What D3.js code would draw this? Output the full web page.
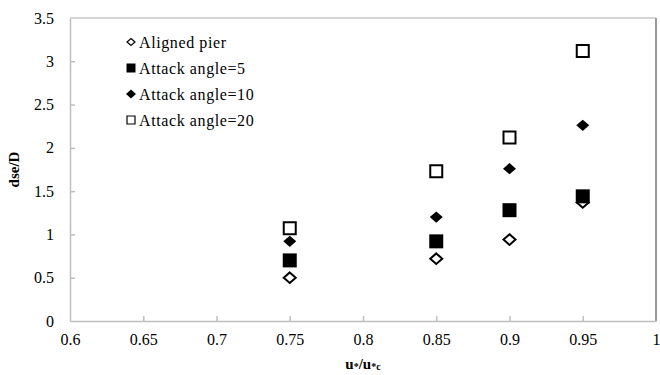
<!DOCTYPE html>
<html>
<head>
    <meta charset="UTF-8">
    <title>dse/D vs u*/u*c</title>
    <style>
        body {
            margin: 0;
            padding: 0;
            background-color: #fff;
        }
        svg text {
            font-family: "Liberation Serif", "Times New Roman", serif;
            fill: #000;
        }
        .axis path, .axis line {
            stroke: #bfbfbf;
            stroke-width: 1.5px;
        }
        .axis text {
            font-size: 16px;
        }
    </style>
    <script src="https://cdn.jsdelivr.net/npm/d3@7"></script>
</head>
<body>
    <div id="chart"></div>

    <script>
        // data
        var ratios = [0.75, 0.85, 0.9, 0.95];
        var alignedPier = [0.50, 0.72, 0.94, 1.37];
        var attack5 = [0.70, 0.92, 1.28, 1.44];
        var attack10 = [0.92, 1.20, 1.76, 2.26];
        var attack20 = [1.07, 1.73, 2.12, 3.12];

        var xTicks = [0.6, 0.65, 0.7, 0.75, 0.8, 0.85, 0.9, 0.95, 1];
        var yTicks = [0, 0.5, 1, 1.5, 2, 2.5, 3, 3.5];

        var series = [
            {name: "Aligned pier", values: alignedPier, shape: "diamond", filled: false},
            {name: "Attack angle=5", values: attack5, shape: "square", filled: true},
            {name: "Attack angle=10", values: attack10, shape: "diamond", filled: true},
            {name: "Attack angle=20", values: attack20, shape: "square", filled: false}
        ];

        var W = 660, H = 375;
        var margin = {top: 18, right: 4, bottom: 54, left: 70};

        var x = d3.scaleLinear().domain([0.6, 1]).range([margin.left, W - margin.right]);
        var y = d3.scaleLinear().domain([0, 3.5]).range([H - margin.bottom, margin.top]);

        var svg = d3.select("#chart").append("svg")
            .attr("width", W)
            .attr("height", H);

        // plot area frame (top light, right darker)
        svg.append("line")
            .attr("x1", x(0.6)).attr("x2", x(1))
            .attr("y1", y(3.5)).attr("y2", y(3.5))
            .attr("stroke", "#c8c8c8").attr("stroke-width", 1.5);
        svg.append("line")
            .attr("x1", x(1)).attr("x2", x(1))
            .attr("y1", y(3.5)).attr("y2", y(0))
            .attr("stroke", "#9a9a9a").attr("stroke-width", 2);

        var fmt = function(d) { return String(+d.toFixed(2)); };

        var xAxis = svg.append("g")
            .attr("class", "axis")
            .attr("transform", "translate(0," + y(0) + ")")
            .call(d3.axisBottom(x).tickValues(xTicks).tickFormat(fmt)
                .tickSizeInner(-5).tickSizeOuter(0).tickPadding(13));

        var yAxis = svg.append("g")
            .attr("class", "axis")
            .attr("transform", "translate(" + x(0.6) + ",0)")
            .call(d3.axisLeft(y).tickValues(yTicks).tickFormat(fmt)
                .tickSizeInner(-5).tickSizeOuter(0).tickPadding(16));

        // end ticks sit on the frame
        xAxis.selectAll(".tick line").filter(function(d) { return d === 0.6 || d === 1; }).remove();
        yAxis.selectAll(".tick line").filter(function(d) { return d === 0 || d === 3.5; }).remove();

        function markerPath(shape, s) {
            var h = s / 2;
            if (shape === "square") {
                return "M" + (-h) + "," + (-h) + "H" + h + "V" + h + "H" + (-h) + "Z";
            }
            var hy = h * 0.88;
            return "M0," + (-hy) + "L" + h + ",0L0," + hy + "L" + (-h) + ",0Z";
        }

        function styleMarker(sel, s) {
            sel.attr("fill", s.filled ? "#000" : "#fff")
                .attr("stroke", s.filled ? "none" : "#000")
                .attr("stroke-width", 2);
        }

        // later series drawn on top, like Excel
        series.forEach(function(s) {
            var size = s.shape === "square" ? (s.filled ? 14 : 12) : (s.filled ? 13 : 12);
            svg.append("g").selectAll("path")
                .data(s.values)
                .enter().append("path")
                .attr("transform", function(d, i) { return "translate(" + x(ratios[i]) + "," + y(d) + ")"; })
                .attr("d", markerPath(s.shape, size))
                .call(styleMarker, s);
        });

        // legend
        var legend = svg.append("g").attr("transform", "translate(131,42)");
        series.forEach(function(s, i) {
            var row = legend.append("g").attr("transform", "translate(0," + (i * 26) + ")");
            var size = s.shape === "square" ? (s.filled ? 9 : 8) : (s.filled ? 10 : 8);
            row.append("path")
                .attr("d", markerPath(s.shape, size))
                .call(styleMarker, s)
                .attr("stroke-width", 1.2);
            row.append("text")
                .attr("x", 8)
                .attr("y", 5.5)
                .style("font-size", "16px")
                .style("letter-spacing", "0.6px")
                .text(s.name);
        });

        // axis titles
        var xt = svg.append("text")
            .attr("x", (x(0.6) + x(1)) / 2)
            .attr("y", 369)
            .attr("text-anchor", "middle")
            .style("font-size", "15px")
            .style("font-weight", "bold");
        xt.append("tspan").text("u");
        xt.append("tspan").attr("font-size", "10px").attr("dy", 1).text("*");
        xt.append("tspan").attr("dy", -1).text("/u");
        xt.append("tspan").attr("font-size", "10px").attr("dy", 1).text("*c");

        svg.append("text")
            .attr("transform", "translate(19," + ((y(0) + y(3.5)) / 2) + ") rotate(-90)")
            .attr("text-anchor", "middle")
            .style("font-size", "15px")
            .style("font-weight", "bold")
            .text("dse/D");
    </script>
</body>
</html>
